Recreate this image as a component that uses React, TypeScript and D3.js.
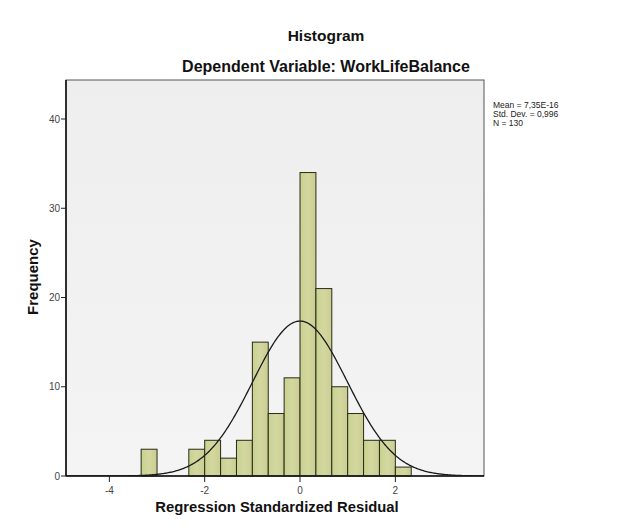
import React from "react";
import * as d3 from "d3";

const binEdges = [-10 / 3, -9 / 3, -8 / 3, -7 / 3, -6 / 3, -5 / 3, -4 / 3, -3 / 3, -2 / 3, -1 / 3, 0, 1 / 3, 2 / 3, 3 / 3, 4 / 3, 5 / 3, 6 / 3, 7 / 3];
const binCounts = [3, 0, 0, 3, 4, 2, 4, 15, 7, 11, 34, 21, 10, 7, 4, 4, 1];
const xTicks = [-4, -2, 0, 2];
const yTicks = [0, 10, 20, 30, 40];
const statsLines = ["Mean = 7,35E-16", "Std. Dev. = 0,996", "N = 130"];
const meanVal = 7.35e-16;
const sdVal = 0.996;
const nVal = 130;

const W = 632, H = 527;
const L = 66, R = 484, T = 80, B = 476;

export default function App() {
  const x = d3.scaleLinear().domain([-4.91, 3.86]).range([L, R]);
  const y = d3.scaleLinear().domain([0, 44.37]).range([B, T]);
  const bw = binEdges[1] - binEdges[0];
  const pts = d3.range(0, 401).map((i) => {
    const v = -4.91 + (i / 400) * (3.86 + 4.91);
    const z = (v - meanVal) / sdVal;
    const f = (nVal * bw * Math.exp(-0.5 * z * z)) / (sdVal * Math.sqrt(2 * Math.PI));
    return [v, f] as [number, number];
  });
  const line = d3.line<[number, number]>().x((d) => x(d[0])).y((d) => y(d[1]));
  const font = "'Liberation Sans', Arial, sans-serif";
  return (
    <svg width={W} height={H} style={{ position: "absolute", left: 0, top: 0, background: "#fff" }} fontFamily={font}>
      <defs>
        <linearGradient id="bg" x1="0" y1="0" x2="0" y2="1">
          <stop offset="0" stopColor="#eeeeee" />
          <stop offset="1" stopColor="#f4f4f4" />
        </linearGradient>
        <linearGradient id="bar" x1="0" y1="0" x2="1" y2="0">
          <stop offset="0" stopColor="#c8d18e" />
          <stop offset="0.5" stopColor="#d4d8a0" />
          <stop offset="1" stopColor="#cacd90" />
        </linearGradient>
        <clipPath id="clip">
          <rect x={L} y={T} width={R - L} height={B - T} />
        </clipPath>
      </defs>
      <rect x={L} y={T} width={R - L} height={B - T} fill="url(#bg)" />
      {binCounts.map((c, i) =>
        c > 0 ? (
          <rect
            key={i}
            x={x(binEdges[i])}
            y={y(c)}
            width={x(binEdges[i + 1]) - x(binEdges[i])}
            height={y(0) - y(c)}
            fill="url(#bar)"
            stroke="#2a2a1a"
            strokeWidth={1}
          />
        ) : null
      )}
      <path d={line(pts) || ""} fill="none" stroke="#1a1a1a" strokeWidth={1.3} clipPath="url(#clip)" />
      <rect x={L} y={T} width={R - L} height={B - T} fill="none" stroke="#555" strokeWidth={1} />
      <line x1={L} x2={L} y1={T} y2={B} stroke="#111" strokeWidth={1.6} />
      <line x1={L} x2={R} y1={B} y2={B} stroke="#111" strokeWidth={1.6} />
      {yTicks.map((t) => (
        <g key={t}>
          <line x1={L - 5} x2={L} y1={y(t)} y2={y(t)} stroke="#222" />
          <text x={L - 6} y={y(t) + 3.5} fontSize={10} textAnchor="end" fill="#444">
            {t}
          </text>
        </g>
      ))}
      {xTicks.map((t) => (
        <g key={t}>
          <line x1={x(t)} x2={x(t)} y1={B} y2={B + 6} stroke="#222" />
          <text x={x(t)} y={B + 18} fontSize={10} textAnchor="middle" fill="#444">
            {t}
          </text>
        </g>
      ))}
      <text x={326} y={41} fontSize={15.5} fontWeight="bold" textAnchor="middle" fill="#111">
        Histogram
      </text>
      <text x={326} y={72} fontSize={16} fontWeight="bold" textAnchor="middle" fill="#111">
        Dependent Variable: WorkLifeBalance
      </text>
      <text x={277} y={512} fontSize={14.8} fontWeight="bold" textAnchor="middle" fill="#111">
        Regression Standardized Residual
      </text>
      <text transform={`translate(38,277) rotate(-90)`} fontSize={15} fontWeight="bold" textAnchor="middle" fill="#111">
        Frequency
      </text>
      {statsLines.map((s, i) => (
        <text key={i} x={493} y={108 + i * 9} fontSize={8.5} fill="#222">
          {s}
        </text>
      ))}
    </svg>
  );
}
